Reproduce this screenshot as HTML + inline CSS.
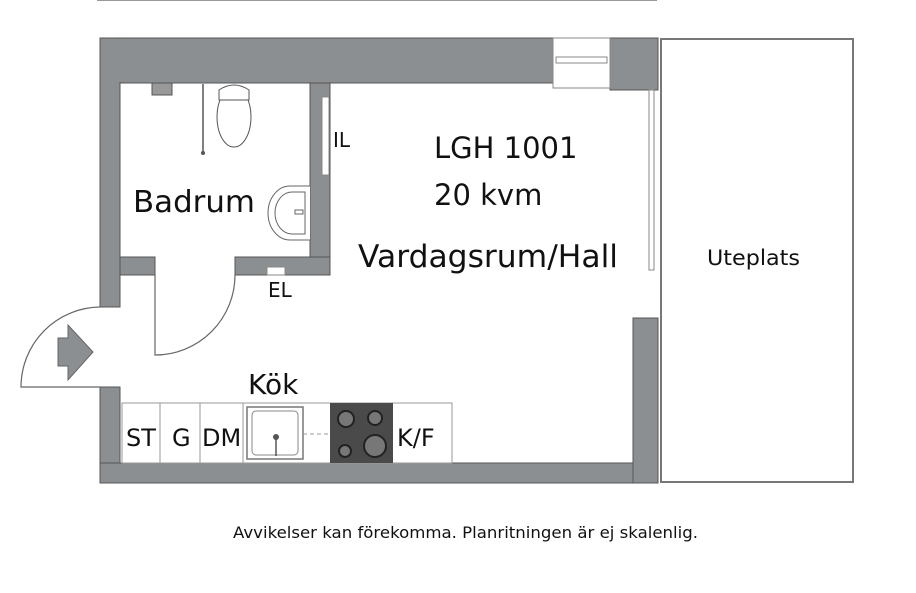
<!DOCTYPE html>
<html><head><meta charset="utf-8"><style>
html,body{margin:0;padding:0;background:#fff;}
svg{display:block;}
text{font-family:"DejaVu Sans","Liberation Sans",sans-serif;fill:#111;}
</style></head><body>
<svg width="916" height="593" viewBox="0 0 916 593" xmlns="http://www.w3.org/2000/svg">
<line x1="97" y1="0.5" x2="657" y2="0.5" stroke="#999" stroke-width="1"/>
<g fill="#8c8f91" stroke="#555" stroke-width="1">
<rect x="100" y="38" width="453" height="45"/>
<rect x="610" y="38" width="48" height="52"/>
<rect x="100" y="38" width="20" height="269"/>
<rect x="100" y="387" width="20" height="96"/>
<rect x="100" y="463" width="558" height="20"/>
<rect x="633" y="318" width="25" height="165"/>
<rect x="310" y="83" width="20" height="192"/>
<rect x="120" y="257" width="35" height="18"/>
<rect x="235" y="257" width="95" height="18"/>
</g>
<rect x="101" y="39" width="451" height="43" fill="#8c8f91"/>
<rect x="553" y="38" width="57" height="50" fill="#fff" stroke="#888"/>
<rect x="556" y="57" width="51" height="6" fill="#fff" stroke="#888"/>
<rect x="649" y="90" width="5" height="180" fill="#fff" stroke="#888"/>
<rect x="322" y="97" width="7" height="78" fill="#fff" stroke="#888"/>
<rect x="267" y="267" width="18" height="8" fill="#fff" stroke="#888"/>
<path d="M155 275 V355 A80 80 0 0 0 235 275" fill="none" stroke="#666" stroke-width="1.2"/>
<path d="M100 387 H21 A80 80 0 0 1 100 307" fill="none" stroke="#666" stroke-width="1.2"/>
<path d="M58 338 H68 V325 L93 352 L68 380 V366 H58 Z" fill="#8c8f91" stroke="#666"/>
<ellipse cx="234" cy="117" rx="17" ry="30" fill="#fff" stroke="#555"/>
<path d="M219 90 Q234 80 249 90 V100 H219 Z" fill="#fff" stroke="#555"/>
<line x1="203" y1="84" x2="203" y2="153" stroke="#555" stroke-width="1.5"/>
<circle cx="203" cy="153" r="2" fill="#555"/>
<rect x="152" y="83" width="20" height="12" fill="#999" stroke="#555"/>
<path d="M310 186 H290 A22 27 0 0 0 290 240 H310" fill="#fff" stroke="#666"/>
<path d="M305 192 H292 A17 21 0 0 0 292 234 H305 Z" fill="#fff" stroke="#666"/>
<rect x="295" y="210" width="8" height="4" fill="#fff" stroke="#666"/>
<rect x="661" y="39" width="192" height="443" fill="#fff" stroke="#777" stroke-width="2"/>
<g fill="#fff" stroke="#999">
<rect x="122" y="403" width="330" height="60"/>
<line x1="160" y1="403" x2="160" y2="463"/>
<line x1="200" y1="403" x2="200" y2="463"/>
<line x1="243" y1="403" x2="243" y2="463"/>
</g>
<rect x="247" y="407" width="56" height="52" fill="#fff" stroke="#777" stroke-width="1.5"/>
<rect x="252" y="411" width="46" height="44" rx="4" fill="#fff" stroke="#888"/>
<circle cx="276" cy="437" r="3" fill="#555"/>
<line x1="276" y1="437" x2="276" y2="456" stroke="#555" stroke-width="1.5"/>
<line x1="303" y1="434" x2="330" y2="434" stroke="#999" stroke-dasharray="4 3"/>
<rect x="330" y="403" width="63" height="60" fill="#4a4a4a"/>
<g fill="#777" stroke="#222" stroke-width="2">
<circle cx="346" cy="419" r="8"/><circle cx="375" cy="418" r="7"/>
<circle cx="345" cy="451" r="6"/><circle cx="375" cy="446" r="11"/>
</g>
<text x="133" y="212" font-size="30" textLength="122" lengthAdjust="spacingAndGlyphs">Badrum</text>
<text x="333" y="147" font-size="20">IL</text>
<text x="434" y="158" font-size="29" font-family="Liberation Sans">LGH 1001</text>
<text x="434" y="205" font-size="29" font-family="Liberation Sans">20 kvm</text>
<text x="358" y="267" font-size="31" textLength="260" lengthAdjust="spacingAndGlyphs">Vardagsrum/Hall</text>
<text x="268" y="297" font-size="20">EL</text>
<text x="248" y="394" font-size="28">Kök</text>
<text x="126" y="446" font-size="24">ST</text>
<text x="172" y="446" font-size="24">G</text>
<text x="202" y="446" font-size="24">DM</text>
<text x="397" y="446" font-size="24">K/F</text>
<text x="707" y="265" font-size="21" font-family="Liberation Sans" textLength="93" lengthAdjust="spacingAndGlyphs">Uteplats</text>
<text x="233" y="538" font-size="16" font-family="Liberation Sans" textLength="465" lengthAdjust="spacingAndGlyphs">Avvikelser kan förekomma. Planritningen är ej skalenlig.</text>
</svg>
</body></html>
